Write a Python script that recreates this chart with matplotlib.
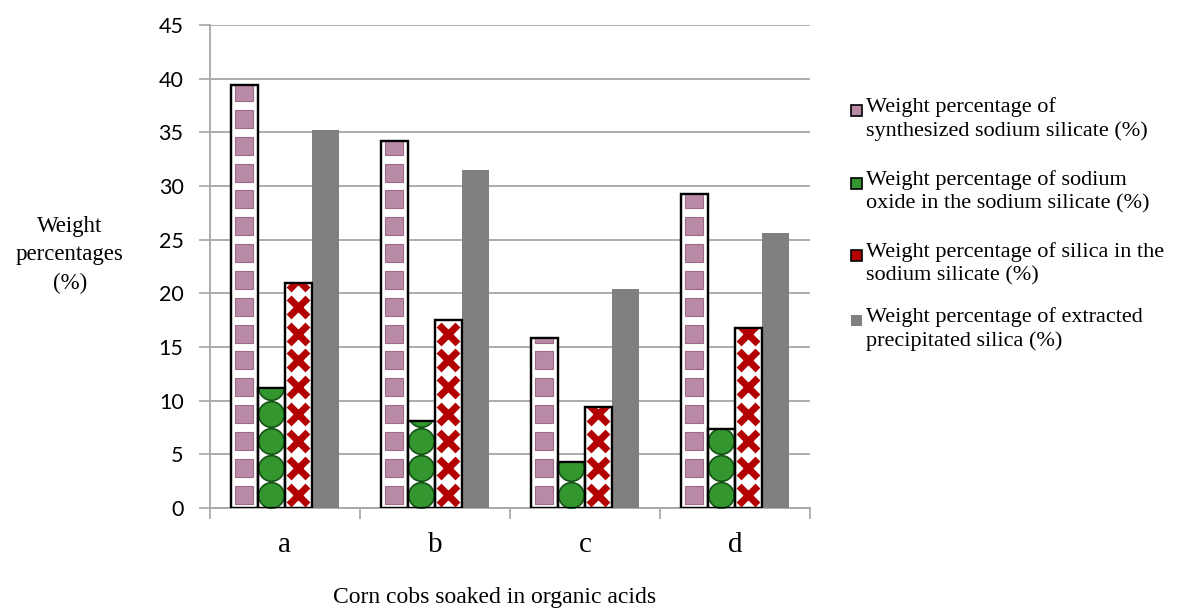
import numpy as np
import matplotlib.pyplot as plt
from matplotlib.patches import Rectangle

categories = ['a', 'b', 'c', 'd']
sodium_silicate = [39.4, 34.2, 15.8, 29.3]
sodium_oxide = [11.2, 8.1, 4.3, 7.4]
silica_in_silicate = [21.0, 17.5, 9.4, 16.8]
precipitated_silica = [35.2, 31.5, 20.4, 25.6]

labels = ['Weight percentage of\nsynthesized sodium silicate (%)',
          'Weight percentage of sodium\noxide in the sodium silicate (%)',
          'Weight percentage of silica in the\nsodium silicate (%)',
          'Weight percentage of extracted\nprecipitated silica (%)']

serif = 'Liberation Serif'
fig = plt.figure(figsize=(11.91, 6.09), dpi=100)
ax = fig.add_axes([0.1763, 0.1658, 0.5038, 0.7931])

x = np.arange(len(categories))
w = 0.18
grid_c = '#a6a6a6'

# (values, marker, marker size, face, edge, edge width)
styles = [
    (sodium_silicate, 's', 150, '#b98aa6', '#a06888', 0.8),
    (sodium_oxide, 'o', 340, '#34962f', '#145214', 1.2),
    (silica_in_silicate, 'x', 185, '#b30000', '#b30000', 5.0),
]

for i, (vals, mk, ms, fc, ec, lw) in enumerate(styles):
    xs = x + (i - 1.5) * w
    bars = ax.bar(xs, vals, w, color='white', edgecolor='black', linewidth=1.6, zorder=3)
    for bx, v, b in zip(xs, vals, bars):
        ys = np.arange(1.25, v + 1.25, 2.5)
        sc = ax.scatter(np.full(len(ys), bx), ys, s=ms, marker=mk, c=fc,
                        edgecolors=ec, linewidths=lw, zorder=4)
        sc.set_clip_path(b)
    # redraw outline on top of markers
    ax.bar(xs, vals, w, color='none', edgecolor='black', linewidth=1.6, zorder=5)

ax.bar(x + 1.5 * w, precipitated_silica, w, color='#808080', zorder=3)

ax.set_xlim(-0.5, 3.5)
ax.set_ylim(0, 45)
ax.set_yticks(np.arange(0, 46, 5))
ax.set_xticks(np.arange(-0.5, 3.6, 1))
ax.set_xticklabels([])
ax.set_xticks(x, minor=True)
ax.set_xticklabels(categories, minor=True, fontsize=21, family=serif)
ax.tick_params(axis='x', which='major', length=8, width=1.2, color=grid_c, direction='out')
ax.tick_params(axis='x', which='minor', length=0, pad=17)
ax.tick_params(axis='y', length=8, width=1.2, color=grid_c, pad=11, labelsize=15.5)
for t in ax.get_yticklabels():
    t.set_family('Lato')

ax.yaxis.grid(True, color=grid_c, linewidth=1.3, zorder=0)
ax.set_axisbelow(True)
for s in ['top', 'right']:
    ax.spines[s].set_visible(False)
for s in ['left', 'bottom']:
    ax.spines[s].set_color(grid_c)
    ax.spines[s].set_linewidth(1.3)

fig.text(70 / 1191, 1 - 255 / 609, 'Weight\npercentages\n(%)', ha='center', va='center',
         multialignment='center', fontsize=16.5, family=serif, linespacing=1.45)
fig.text(495 / 1191, 1 - 598 / 609, 'Corn cobs soaked in organic acids', ha='center',
         va='center', fontsize=17, family=serif)

# legend drawn by hand so the key sits beside the first line
leg_faces = ['#b98aa6', '#34962f', '#b30000', '#808080']
leg_edges = ['black', 'black', 'black', 'none']
leg_y = [110, 183, 255, 320]
for fc, ec, yy, lab in zip(leg_faces, leg_edges, leg_y, labels):
    fig.patches.append(Rectangle((851 / 1191, 1 - (yy + 6) / 609), 11 / 1191, 11 / 609,
                                 transform=fig.transFigure, facecolor=fc, edgecolor=ec,
                                 linewidth=1.2))
    fig.text(866 / 1191, 1 - (yy - 13) / 609, lab, ha='left', va='top', fontsize=16,
             family=serif, linespacing=1.3)

fig.savefig('out.png', dpi=100)
